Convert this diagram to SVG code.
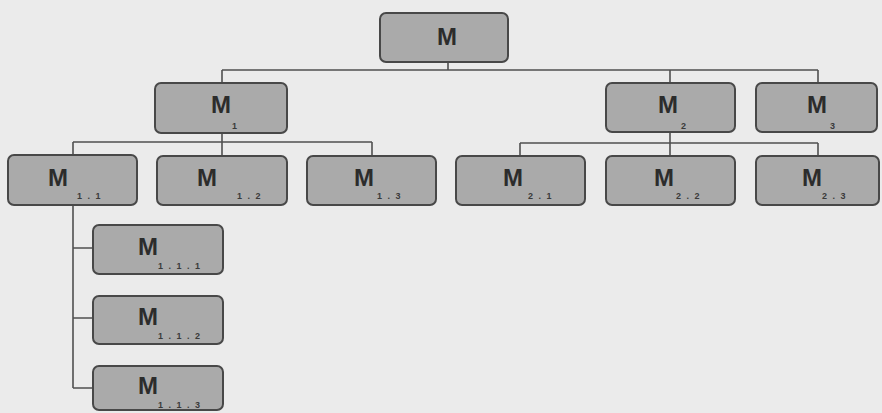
<svg xmlns="http://www.w3.org/2000/svg" width="882" height="413" viewBox="0 0 882 413">
<style>
.bg{fill:#ebebeb}
.box{fill:#aaaaaa;stroke:#484848;stroke-width:2}
.m{font-family:"Liberation Sans",Arial,sans-serif;font-size:24px;font-weight:bold;fill:#2c2c2c;text-anchor:middle}
.s{font-family:"Liberation Sans",Arial,sans-serif;font-size:9px;fill:#3a3a3a;font-weight:bold;letter-spacing:1.5px}
.c{fill:none;stroke:#505050;stroke-width:1.6}
</style>
<rect class="bg" x="0" y="0" width="882" height="413"/>
<g id="connectors">
<path class="c" d="M448 62V70M222 70H818M222 70V83M670 70V83M818 70V83"/>
<path class="c" d="M222 133V142M73 142H372M73 142V155M222 142V156M372 142V156"/>
<path class="c" d="M670 132V143M520 143H818M520 143V156M670 143V156M818 143V156"/>
<path class="c" d="M73 205V388M73 248H93M73 318H93M73 388H93"/>
</g>
<g id="n_M"><rect class="box" x="380" y="13" width="128" height="49" rx="6"/><text class="m" x="447" y="45">M</text></g>
<g id="n_M1"><rect class="box" x="155" y="83" width="132" height="50" rx="6"/><text class="m" x="221" y="113">M</text><text class="s" x="232" y="129">1</text></g>
<g id="n_M2"><rect class="box" x="606" y="83" width="129" height="49" rx="6"/><text class="m" x="668" y="113">M</text><text class="s" x="681" y="129">2</text></g>
<g id="n_M3"><rect class="box" x="756" y="83" width="121" height="49" rx="6"/><text class="m" x="817" y="113">M</text><text class="s" x="830" y="129">3</text></g>
<g id="n_M11"><rect class="box" x="8" y="155" width="129" height="50" rx="6"/><text class="m" x="58" y="186">M</text><text class="s" x="77" y="199">1 . 1</text></g>
<g id="n_M12"><rect class="box" x="157" y="156" width="130" height="49" rx="6"/><text class="m" x="207" y="186">M</text><text class="s" x="237" y="199">1 . 2</text></g>
<g id="n_M13"><rect class="box" x="307" y="156" width="129" height="49" rx="6"/><text class="m" x="364" y="186">M</text><text class="s" x="377" y="199">1 . 3</text></g>
<g id="n_M21"><rect class="box" x="456" y="156" width="129" height="49" rx="6"/><text class="m" x="513" y="186">M</text><text class="s" x="528" y="199">2 . 1</text></g>
<g id="n_M22"><rect class="box" x="606" y="156" width="129" height="49" rx="6"/><text class="m" x="664" y="186">M</text><text class="s" x="676" y="199">2 . 2</text></g>
<g id="n_M23"><rect class="box" x="756" y="156" width="123" height="49" rx="6"/><text class="m" x="812" y="186">M</text><text class="s" x="822" y="199">2 . 3</text></g>
<g id="n_M111"><rect class="box" x="93" y="225" width="130" height="49" rx="6"/><text class="m" x="148" y="255">M</text><text class="s" x="158" y="269">1 . 1 . 1</text></g>
<g id="n_M112"><rect class="box" x="93" y="296" width="130" height="48" rx="6"/><text class="m" x="148" y="325">M</text><text class="s" x="158" y="339">1 . 1 . 2</text></g>
<g id="n_M113"><rect class="box" x="93" y="366" width="130" height="44" rx="6"/><text class="m" x="148" y="394">M</text><text class="s" x="158" y="408">1 . 1 . 3</text></g>
</svg>
